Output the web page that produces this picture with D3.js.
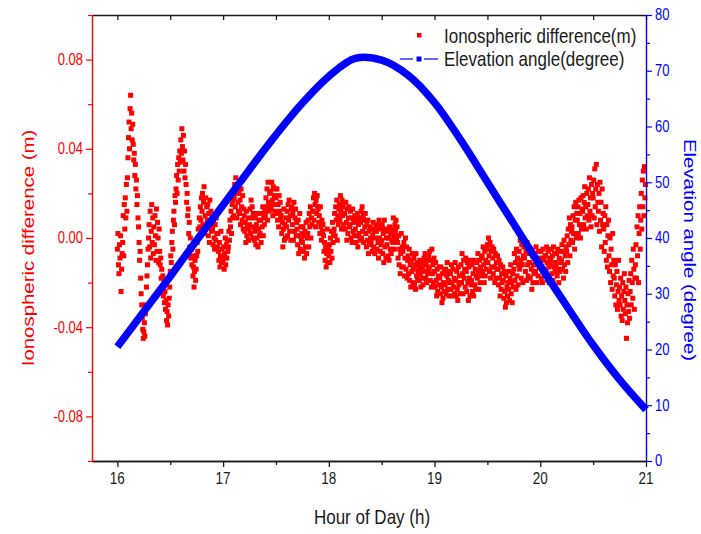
<!DOCTYPE html>
<html>
<head>
<meta charset="utf-8">
<script src="https://cdn.jsdelivr.net/npm/d3@7"></script>
<style>
  body { margin: 0; background: #fff; }
  svg { display: block; font-family: Arial, "Liberation Sans", sans-serif; }
</style>
</head>
<body>
<div id="chart"></div>
<script>
// ---------------- data ----------------
// ionospheric difference, sampled every 0.005 h from 16:00, in millimetres
const ionoStartHour = 16.0;
const ionoStepHour = 0.005;
const ionoDiffMm = [
  -5, 2, -12, -16, -3, -9, 1, -24, -14, -7,   -2, 10, -8, 15, 4, 18, 9, 24, 12, 27,
  36, 45, 52, 40, 58, 64, 49, 56, 44, 51,   42, 35, 38, 28, 33, 22, 26, 15, 19, 9,
  5, -2, -10, -6, -18, -25, -30, -36, -41, -45,   -42, -38, -44, -34, -30, -22, -17, -12, -5, 0,
  6, -4, 12, -9, 3, 15, -2, 9, -7, 5,   -3, 10, 1, -10, 13, -6, 7, 0, -11, 4,
  -6, -12, -9, -18, -14, -22, -17, -26, -20, -29,   -24, -32, -28, -37, -33, -39, -30, -35, -27, -22,
  -15, -8, -11, -2, 3, -5, 8, 12, 6, 19,   16, 22, 28, 20, 33, 26, 36, 30, 39, 34,
  44, 38, 49, 41, 35, 46, 30, 39, 27, 33,   24, 16, 20, 10, 13, 2, 7, -4, 0, -9,
  -5, -12, -8, -17, -13, -22, -15, -10, -19, -14,   -8, -2, -6, 4, 0, 9, 5, 14, 8, 18,
  12, 20, 6, 16, 23, 2, 10, 18, 5, 14,   8, 15, 1, 11, -2, 17, 6, 12, 3, 9,
  4, -3, 8, 0, -5, 6, -1, 9, 2, -4,   2, -6, -10, -2, -13, -8, 3, -11, -5, -9,
  -10, -4, -14, -7, 0, -12, -3, -9, -1, -6,   -4, 3, -1, 8, 5, 12, 2, 15, 9, 17,
  10, 18, 24, 14, 27, 20, 9, 23, 16, 12,   20, 11, 17, 6, 22, 14, 8, 19, 4, 13,
  10, 3, 7, -2, 12, 1, 5, 9, -1, 4,   6, 13, 2, 17, 9, 14, 0, 11, 5, -1,
  3, 9, -3, 6, 0, 11, -4, 4, 8, 1,   2, 8, -2, 11, 5, 14, 1, 9, 6, 12,
  10, 18, 14, 22, 8, 25, 16, 12, 20, 15,   21, 13, 25, 17, 10, 23, 15, 19, 12, 22,
  18, 11, 22, 8, 15, 5, 19, 12, 16, 9,   10, 2, 7, -4, 4, 13, -1, 6, 0, 9,
  5, 12, 1, 15, 8, 17, 3, 10, -1, 13,   14, 6, 11, -1, 16, 3, 9, 13, 1, 7,
  4, -3, 8, -7, 1, 11, -5, 5, -1, 2,   -2, 5, -6, 1, -9, 3, -4, 7, -7, 0,
  2, 8, -4, 11, 5, 14, 0, 9, 6, 12,   12, 18, 8, 20, 15, 5, 17, 11, 19, 14,
  13, 7, 10, 2, 14, 5, -1, 8, 3, 6,   1, -6, -2, -10, -4, -13, -7, 4, -11, -5,
  -8, -3, -11, 0, -6, 3, -9, 7, -2, 2,   4, 11, 1, 14, 8, 17, -1, 10, 6, 13,
  15, 8, 19, 12, 4, 17, 10, 14, 6, 16,   11, 4, 16, 7, -1, 13, 2, 9, 14, 5,
  6, 12, 0, 9, -2, 13, 3, 7, 1, 10,   4, -2, 8, 1, 11, -4, 6, 2, 9, -1,
  7, 12, 0, 14, 3, 10, -2, 8, 5, 11,   2, -4, 6, -1, 8, -7, 3, -3, 5, 0,
  -2, 4, -6, 1, 7, -4, 3, -7, 0, 5,   3, -5, 6, -2, -9, 8, 0, -6, 4, -3,
  -1, 6, -7, 2, -11, 8, -4, 4, -9, 0,   -3, 3, -8, 0, -10, 5, -5, 2, -7, -1,
  4, -2, 9, 1, -5, 6, 3, 8, -1, 5,   -2, -9, 1, -12, -5, -16, -7, 2, -13, -4,
  -6, -13, -2, -17, -9, 0, -14, -4, -18, -10,   -8, -16, -5, -19, -12, -22, -10, -15, -7, -20,
  -14, -9, -21, -12, -23, -7, -17, -11, -19, -15,   -13, -19, -10, -16, -22, -12, -18, -14, -21, -11,
  -9, -15, -7, -18, -12, -20, -10, -16, -13, -8,   -14, -6, -19, -10, -22, -5, -16, -12, -20, -9,
  -15, -22, -11, -19, -26, -14, -24, -17, -21, -13,   -18, -25, -13, -22, -29, -16, -27, -20, -24, -15,
  -21, -14, -25, -17, -11, -23, -19, -26, -15, -20,   -16, -23, -12, -20, -26, -14, -22, -18, -25, -11,
  -19, -26, -15, -23, -28, -13, -21, -17, -25, -20,   -12, -20, -7, -16, -25, -10, -18, -14, -22, -9,
  -15, -24, -11, -20, -28, -13, -18, -26, -10, -21,   -19, -12, -24, -16, -26, -10, -21, -14, -23, -17,
  -11, -18, -7, -15, -23, -10, -20, -13, -17, -9,   -8, -15, -4, -12, -20, -6, -17, -10, -14, -5,
  -3, -11, 0, -8, -15, -2, -18, -6, -13, -4,   -9, -16, -5, -13, -20, -7, -18, -11, -14, -8,
  -14, -21, -10, -18, -26, -12, -23, -16, -20, -13,   -19, -27, -15, -24, -31, -17, -29, -22, -26, -20,
  -23, -15, -28, -18, -12, -25, -20, -29, -16, -22,   -14, -7, -19, -11, -23, -5, -17, -9, -21, -12,
  -6, -14, -1, -10, -18, -3, -12, -20, -8, -4,   -9, -3, -15, -6, -19, -2, -12, -17, -7, -11,
  -11, -18, -5, -14, -23, -8, -20, -12, -16, -9,   -7, -15, -4, -12, -20, -9, -17, -6, -13, -10,
  -12, -6, -18, -9, -20, -5, -14, -10, -16, -8,   -8, -15, -4, -11, -19, -6, -13, -20, -9, -12,
  -10, -5, -16, -8, -19, -4, -13, -7, -15, -11,   -12, -7, -17, -5, -14, -20, -9, -15, -6, -11,
  -10, -3, -14, -6, -18, -1, -12, -8, -15, -4,   -6, 1, -11, 4, -3, 9, -8, 6, -1, 3,
  5, -2, 10, 2, 14, -5, 8, 16, 0, 11,   8, 14, 2, 17, 6, 11, 0, 18, 4, 13,
  12, 19, 6, 16, 23, 9, 14, 4, 20, 10,   15, 22, 8, 27, 12, 18, 5, 24, 10, 20,
  18, 26, 9, 31, 14, 22, 33, 6, 24, 16,   12, 20, 3, 25, 8, 16, -4, 22, 6, 11,
  4, -6, 10, -2, 14, -10, 6, -13, 1, 8,   -8, -15, 0, -20, -5, -12, -23, 2, -17, -10,
  -18, -26, -12, -30, -21, -15, -32, -24, -10, -28,   -22, -30, -18, -35, -26, -37, -20, -32, -24, -16,
  -28, -34, -22, -45, -30, -38, -25, -33, -19, -36,   -24, -16, -30, -10, -20, -27, -5, -14, -32, -18,
  -12, -3, -18, 5, -8, 10, -20, 2, 14, -5,   8, 20, 4, 26, 14, 30, 10, 32, 18, 24
];

// satellite elevation angle (degree)
const elevHours = [16, 16.25, 16.5, 16.75, 17, 17.25, 17.5, 17.75, 18, 18.25, 18.5,
                   18.75, 19, 19.25, 19.5, 19.75, 20, 20.25, 20.5, 20.75, 21];
const elevDeg   = [20.5, 26.8, 33.1, 39.6, 45.9, 52.3, 58.5, 64.2, 69.0, 72.2, 71.9,
                   69.2, 64.3, 57.5, 50.0, 42.5, 35.0, 27.8, 20.8, 14.6, 9.2];

const xTicks = [16, 17, 18, 19, 20, 21];
const xMinorTicks = [16.5, 17.5, 18.5, 19.5, 20.5];
const leftTicks = [-0.08, -0.04, 0, 0.04, 0.08];
const leftMinorTicks = [-0.1, -0.06, -0.02, 0.02, 0.06, 0.1];
const rightTicks = [0, 10, 20, 30, 40, 50, 60, 70, 80];
const rightMinorTicks = [5, 15, 25, 35, 45, 55, 65, 75];

const legendLabels = ['Ionospheric difference(m)', 'Elevation angle(degree)'];
const xTitle = 'Hour of Day (h)';
const leftTitle = 'Ionospheric difference (m)';
const rightTitle = 'Elevation angle (degree)';

// ---------------- chart ----------------
const W = 701, H = 534;
const RED = '#ff0000', BLUE = '#0000ff', INK = '#1a1a1a';
const SY = 1.2;   // the original figure is stretched vertically

const svg = d3.select('#chart').append('svg')
    .attr('width', W).attr('height', H);
svg.append('rect').attr('width', W).attr('height', H).attr('fill', '#fff');

const x = d3.scaleLinear().domain([15.76, 21]).range([92, 646]);
const yL = d3.scaleLinear().domain([-0.1, 0.1]).range([461, 15]);
const yR = d3.scaleLinear().domain([0, 80]).range([461, 15]);

function label(tx, ty, str, o) {
    return svg.append('text')
        .attr('transform', `translate(${tx},${ty}) scale(1,${SY}) rotate(${o.rot || 0})`)
        .attr('text-anchor', o.anchor || 'middle')
        .attr('dy', o.dy || '0.35em')
        .style('font-size', o.size + 'px')
        .style('fill', o.color || INK)
        .text(str);
}

function styleAxis(g, color, width) {
    g.selectAll('path, line').attr('stroke', color).attr('stroke-width', width);
    g.selectAll('text').remove();
}

// red scatter
const ionoPts = ionoDiffMm.map((v, i) => ({ h: ionoStartHour + i * ionoStepHour, v: v / 1000 }));
svg.append('g').selectAll('rect')
    .data(ionoPts)
    .enter()
    .append('rect')
    .attr('x', d => x(d.h) - 2.5)
    .attr('y', d => yL(d.v) - 2.5)
    .attr('width', 5)
    .attr('height', 5)
    .attr('fill', RED);

// blue elevation line
const elevPts = elevHours.map((h, i) => ({ h, v: elevDeg[i] }));
svg.append('path')
    .datum(elevPts)
    .attr('fill', 'none')
    .attr('stroke', BLUE)
    .attr('stroke-width', 7.5)
    .attr('d', d3.line().x(d => x(d.h)).y(d => yR(d.v)).curve(d3.curveCatmullRom));

// bottom axis
const gb = svg.append('g').attr('transform', 'translate(0,461)')
    .call(d3.axisBottom(x).tickValues(xTicks).tickSize(6).tickSizeOuter(0));
styleAxis(gb, INK, 1.3);
const gbm = svg.append('g').attr('transform', 'translate(0,461)')
    .call(d3.axisBottom(x).tickValues(xMinorTicks).tickSize(4).tickSizeOuter(0));
styleAxis(gbm, INK, 1.3);

// top frame with inward ticks
const gt = svg.append('g').attr('transform', 'translate(0,15)')
    .call(d3.axisBottom(x).tickValues(xTicks.concat(xMinorTicks)).tickSize(5).tickSizeOuter(0));
styleAxis(gt, INK, 1.3);

// left axis (red)
const gl = svg.append('g').attr('transform', 'translate(92,0)')
    .call(d3.axisLeft(yL).tickValues(leftTicks).tickSize(6).tickSizeOuter(0));
styleAxis(gl, RED, 1.2);
const glm = svg.append('g').attr('transform', 'translate(92,0)')
    .call(d3.axisLeft(yL).tickValues(leftMinorTicks).tickSize(4).tickSizeOuter(0));
styleAxis(glm, RED, 1.2);

// right axis (blue)
const gr = svg.append('g').attr('transform', 'translate(646,0)')
    .call(d3.axisRight(yR).tickValues(rightTicks).tickSize(6).tickSizeOuter(0));
styleAxis(gr, BLUE, 1.2);
const grm = svg.append('g').attr('transform', 'translate(646,0)')
    .call(d3.axisRight(yR).tickValues(rightMinorTicks).tickSize(4).tickSizeOuter(0));
styleAxis(grm, BLUE, 1.2);

// tick labels
xTicks.forEach(h => label(x(h), 478, String(h), { size: 13.5 }));
leftTicks.forEach(v => label(83, yL(v), Math.abs(v) < 1e-9 ? '0.00' : v.toFixed(2),
    { size: 13, anchor: 'end', color: RED }));
rightTicks.forEach(v => label(655, yR(v), String(v), { size: 13, anchor: 'start', color: BLUE }));

// axis titles
label(372, 517, xTitle, { size: 17 });
label(28, 248, leftTitle, { size: 17, rot: -90, color: RED });
label(690, 250, rightTitle, { size: 17, rot: 90, color: BLUE });

// legend
svg.append('rect').attr('x', 417).attr('y', 33).attr('width', 4.5).attr('height', 4.5).attr('fill', RED);
label(444, 36, legendLabels[0], { size: 17, anchor: 'start' });
const lg = svg.append('g').attr('stroke', BLUE).attr('stroke-width', 1.2);
lg.append('line').attr('x1', 400).attr('x2', 413).attr('y1', 59).attr('y2', 59);
lg.append('line').attr('x1', 424).attr('x2', 438).attr('y1', 59).attr('y2', 59);
svg.append('rect').attr('x', 416.5).attr('y', 56.5).attr('width', 5).attr('height', 5).attr('fill', BLUE);
label(444, 59, legendLabels[1], { size: 17, anchor: 'start' });
</script>
</body>
</html>
